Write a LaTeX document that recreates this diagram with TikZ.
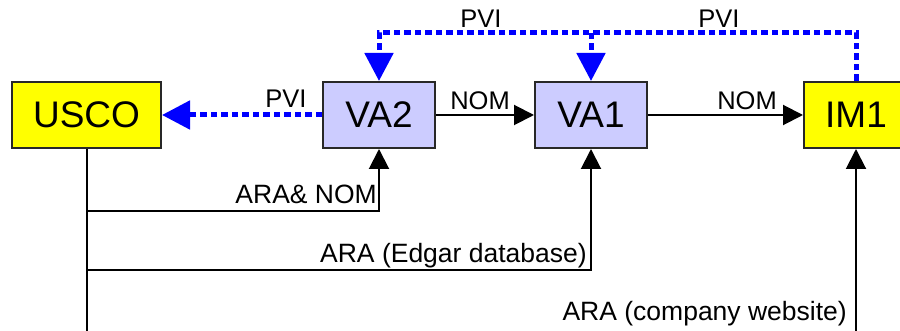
\documentclass[tikz,border=0pt]{standalone}
\usepackage{fontspec}
\setmainfont{Liberation Sans}
\usetikzlibrary{arrows.meta}
\definecolor{boxyellow}{RGB}{255,255,0}
\definecolor{boxlav}{RGB}{204,204,255}
\definecolor{pviblue}{RGB}{0,0,255}
\definecolor{boxline}{RGB}{40,40,40}
\tikzset{
  box/.style={draw=boxline, line width=2pt, minimum height=66pt, inner sep=0pt,
    font=\fontsize{37}{40}\selectfont},
  ybox/.style={box, fill=boxyellow},
  vbox/.style={box, fill=boxlav},
  blk/.style={draw=black, line width=2pt, -{Triangle[width=20pt,length=20pt]}},
  blkline/.style={draw=black, line width=2pt},
  pvi/.style={draw=pviblue, line width=5pt, dash pattern=on 6.5pt off 4pt},
  pviarrow/.style={pvi, -{Triangle[width=28pt,length=28pt,fill=pviblue]}},
  lbl/.style={inner sep=0pt, font=\fontsize{25.5}{30}\selectfont},
  lblb/.style={inner sep=0pt, font=\fontsize{26.5}{30}\selectfont},
}
\begin{document}
\begin{tikzpicture}[x=1pt, y=-1pt]
\useasboundingbox (0,0) rectangle (900,331);
\node[ybox, minimum width=149pt] (USCO) at (86.5,115) {USCO};
\node[vbox, minimum width=112pt] (VA2) at (379,115) {VA2};
\node[vbox, minimum width=112pt] (VA1) at (591,115) {VA1};
\node[ybox, minimum width=104pt] (IM1) at (856,115) {IM1};

% PVI dotted connectors
\coordinate (t1) at (856,33);
\coordinate (t2) at (379,33);
\coordinate (t3) at (591,33);
\draw[pviarrow] (IM1.north) -- (t1) -- (t2) -- (VA2.north);
\draw[pviarrow] (t3) -- (VA1.north);
\draw[pviarrow] (VA2.west) -- (USCO.east);

% NOM connectors
\draw[blk] (VA2.east) -- (VA1.west);
\draw[blk] (VA1.east) -- (IM1.west);

% ARA connectors
\coordinate (b1) at (86.5,331);
\coordinate (j1) at (86.5,211);
\coordinate (j2) at (86.5,270.5);
\coordinate (b2) at (856,331);
\draw[blkline] (USCO.south) -- (b1);
\draw[blk] (j1) -| (VA2.south);
\draw[blk] (j2) -| (VA1.south);
\draw[blk] (b2) -- (IM1.south);

% labels
\node[lbl, anchor=base] (lp1) at (481,28) {PVI};
\node[lbl, anchor=base] (lp2) at (719,28) {PVI};
\node[lbl, anchor=base] (lp3) at (286,108) {PVI};
\node[lbl, anchor=base] (ln1) at (480,110) {NOM};
\node[lbl, anchor=base] (ln2) at (747,110) {NOM};
\node[lblb, anchor=base east] (la1) at (377,204) {ARA\& NOM};
\node[lblb, anchor=base east] (la2) at (587,262) {ARA (Edgar database)};
\node[lblb, anchor=base east] (la3) at (847,320) {ARA (company website)};
\end{tikzpicture}
\end{document}
